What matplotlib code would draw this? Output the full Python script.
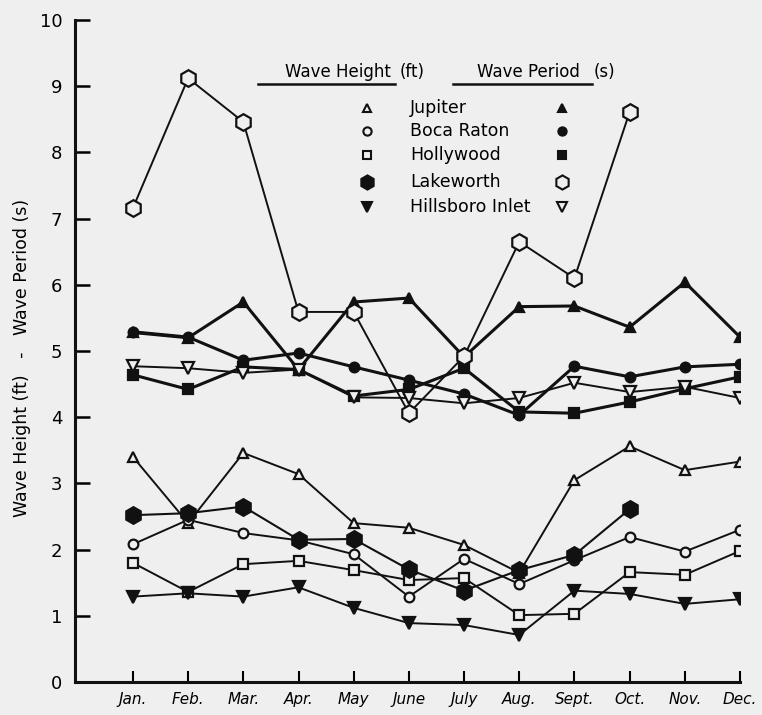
# coding: utf-8
# wave height / wave period by month, five stations
import matplotlib
matplotlib.use("Agg")
from matplotlib import pyplot as plt
import numpy as np

MONTHS = ['Jan.', 'Feb.', 'Mar.', 'Apr.', 'May', 'June', 'July', 'Aug.', 'Sept.', 'Oct.', 'Nov.', 'Dec.']

# wave height (ft)
jupiter_h = [3.40, 2.40, 3.46, 3.14, 2.40, 2.33, 2.07, 1.65, 3.05, 3.56, 3.20, 3.33]
boca_h = [2.08, 2.45, 2.25, 2.14, 1.93, 1.29, 1.86, 1.48, 1.84, 2.19, 1.97, 2.30]
hollywood_h = [1.80, 1.36, 1.78, 1.83, 1.69, 1.54, 1.57, 1.01, 1.03, 1.66, 1.62, 1.98]
lakeworth_h = [2.52, 2.55, 2.65, 2.15, 2.16, 1.70, 1.38, 1.69, 1.92, 2.61]
hillsboro_h = [1.29, 1.34, 1.29, 1.43, 1.12, 0.89, 0.86, 0.71, 1.38, 1.33, 1.18, 1.25]

# wave period (s)
jupiter_p = [5.28, 5.20, 5.74, 4.72, 5.74, 5.80, 4.91, 5.67, 5.68, 5.36, 6.04, 5.21]
boca_p = [5.29, 5.21, 4.86, 4.97, 4.76, 4.56, 4.35, 4.03, 4.77, 4.61, 4.76, 4.80]
hollywood_p = [4.64, 4.42, 4.76, 4.72, 4.32, 4.42, 4.74, 4.08, 4.06, 4.23, 4.43, 4.61]
lakeworth_p = [7.16, 9.12, 8.46, 5.59, 5.59, 4.06, 4.92, 6.65, 6.10, 8.61]
hillsboro_p = [4.77, 4.74, 4.67, 4.72, 4.30, 4.29, 4.21, 4.29, 4.52, 4.38, 4.46, 4.29]

STATIONS = ['Jupiter', 'Boca Raton', 'Hollywood', 'Lakeworth', 'Hillsboro Inlet']

INK = '#111111'
BG = '#efefef'


def main():
    plt.rcParams['font.family'] = ['DejaVu Sans']
    fig = plt.figure(figsize=(7.62, 7.15), dpi=100, facecolor=BG)
    ax = fig.add_axes([75 / 762, 1 - 682 / 715, 665 / 762, 662 / 715])
    ax.set_facecolor(BG)

    # (values, marker, size, filled, linewidth)
    height_styles = [
        (jupiter_h, '^', 7, False, 1.4),
        (boca_h, 'o', 7, False, 1.4),
        (hollywood_h, 's', 7, False, 1.4),
        (lakeworth_h, 'h', 12, True, 1.5),
        (hillsboro_h, 'v', 8, True, 1.4),
    ]
    period_styles = [
        (jupiter_p, '^', 7, True, 2.2),
        (boca_p, 'o', 7, True, 2.2),
        (hollywood_p, 's', 7, True, 2.2),
        (lakeworth_p, 'h', 12, False, 1.4),
        (hillsboro_p, 'v', 9, False, 1.4),
    ]

    for vals, mk, ms, filled, lw in height_styles + period_styles:
        x = np.arange(len(vals))
        ax.plot(x, vals, color=INK, lw=lw, marker=mk, ms=ms,
                mfc=INK if filled else BG, mec=INK, mew=1.6, zorder=3)

    ax.set_xlim(-1.05, 11)
    ax.set_ylim(0, 10)
    ax.set_xticks(np.arange(12))
    ax.set_xticklabels(MONTHS, fontsize=11, style='italic')
    ax.set_yticks(np.arange(11))
    ax.set_yticklabels([str(i) for i in range(11)], fontsize=13)
    ax.tick_params(axis='y', direction='in', length=11, width=1.8, pad=9)
    ax.tick_params(axis='x', direction='in', length=8, width=1.5, pad=7)
    for s in ['top', 'right']:
        ax.spines[s].set_visible(False)
    for s in ['left', 'bottom']:
        ax.spines[s].set_linewidth(2.2)
        ax.spines[s].set_color(INK)
    ax.set_ylabel('Wave Height (ft)   -   Wave Period (s)', fontsize=12.5, labelpad=2)
    ax.yaxis.set_label_coords(-0.066, 0.49)

    # legend block, drawn in axes fraction
    def fx(px):
        return (px - 75) / 665.0

    def fy(py):
        return (682 - py) / 662.0

    tr = ax.transAxes
    ax.text(fx(285), fy(72), 'Wave Height', fontsize=12, transform=tr, va='center', ha='left')
    ax.text(fx(400), fy(72), '(ft)', fontsize=12, transform=tr, va='center', ha='left')
    ax.text(fx(477), fy(72), 'Wave Period', fontsize=12, transform=tr, va='center', ha='left')
    ax.text(fx(594), fy(72), '(s)', fontsize=12, transform=tr, va='center', ha='left')
    ax.plot([fx(258), fx(395)], [fy(84), fy(84)], color=INK, lw=1.8, transform=tr, clip_on=False)
    ax.plot([fx(453), fx(592)], [fy(84), fy(84)], color=INK, lw=1.8, transform=tr, clip_on=False)

    rows = [108, 131, 155, 182, 207]
    for i, name in enumerate(STATIONS):
        _, mk, ms, filled, _ = height_styles[i]
        ax.plot([fx(367)], [fy(rows[i])], marker=mk, ms=ms * 0.85, ls='none',
                mfc=INK if filled else BG, mec=INK, mew=1.5, transform=tr, clip_on=False)
        ax.text(fx(410), fy(rows[i]), name, fontsize=12.5, transform=tr, va='center', ha='left')
        _, mk, ms, filled, _ = period_styles[i]
        ax.plot([fx(562)], [fy(rows[i])], marker=mk, ms=ms * 0.85, ls='none',
                mfc=INK if filled else BG, mec=INK, mew=1.5, transform=tr, clip_on=False)

    fig.savefig('out.png', dpi=100, facecolor=BG)


if __name__ == '__main__':
    main()
